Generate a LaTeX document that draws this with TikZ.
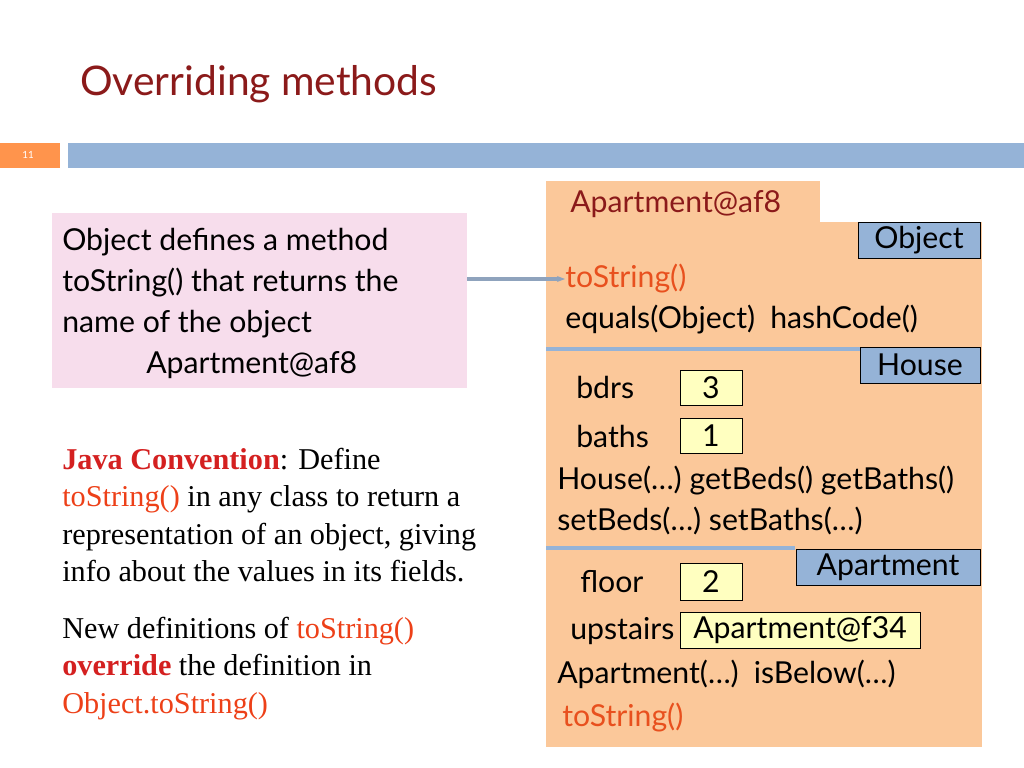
\documentclass[tikz,border=0pt]{standalone}
\usepackage{fontspec}
\setmainfont{Liberation Serif}
\newfontfamily\gill{Lato}
\usepackage{xcolor}
\usetikzlibrary{arrows.meta,positioning}
\definecolor{peach}{HTML}{FBC89A}
\definecolor{pinkbg}{HTML}{F7DDEC}
\definecolor{slate}{HTML}{95B3D7}
\definecolor{titlered}{HTML}{8B1A1A}
\definecolor{methred}{HTML}{E8501E}
\definecolor{javared}{HTML}{D42020}
\definecolor{valyellow}{HTML}{FFFFC0}
\begin{document}
\begin{tikzpicture}[
  x=0.025cm, y=-0.025cm,
  txt/.style={anchor=west, inner sep=0pt, font=\gill\fontsize{21.5}{26}\selectfont},
  classbox/.style={draw=black, fill=slate, inner sep=0pt, font=\gill\fontsize{21.5}{26}\selectfont},
  valbox/.style={draw=black, fill=valyellow, inner sep=0pt, font=\gill\fontsize{21.5}{26}\selectfont},
  sep/.style={draw=slate, line width=3pt},
  arrow/.style={-{Stealth[length=2mm]}, slate!70!gray, line width=2.5pt}
]
\useasboundingbox (0,0) rectangle (1024,768);
% title and header bar
\node[anchor=west, inner sep=0pt, text=titlered, font=\gill\fontsize{29}{32}\selectfont] (title) at (80,84) {Overriding methods};
\fill[fill=slate] (68,143) rectangle (1024,168);
\fill[fill=orange!80!red!70] (0,143) rectangle (60,168);
\node[text=white, font=\gill\fontsize{7}{8}\selectfont] (num) at (28,155) {11};
% object drawing
\fill[peach] (546,181) rectangle (820,222);
\fill[peach] (546,222) rectangle (982,747);
\draw[sep] (546,349) -- (865,349);
\draw[sep] (546,548) -- (795,548);
\node[txt, text=titlered] (name) at (570,204) {Apartment@af8};
\node[classbox, minimum width=3.05cm, minimum height=0.9cm] (obj) at (919,240) {Object};
\node[txt, text=methred] (ts1) at (565,279) {toString()};
\node[txt] (eq) at (565,320) {equals(Object)\enspace hashCode()};
\node[classbox, minimum width=3cm, minimum height=0.9cm] (house) at (920,365) {House};
\node[txt] (bdrs) at (576,387) {bdrs};
\node[valbox, minimum width=1.55cm, minimum height=0.88cm] (v3) at (711,388) {3};
\node[txt] (baths) at (576,436) {baths};
\node[valbox, minimum width=1.55cm, minimum height=0.88cm] (v1) at (711,436) {1};
\node[txt] (hm1) at (557,481) {House(\dots) getBeds() getBaths()};
\node[txt] (hm2) at (557,521) {setBeds(\dots) setBaths(\dots)};
\node[classbox, minimum width=4.6cm, minimum height=0.9cm] (apt) at (888,567) {Apartment};
\node[txt] (floor) at (580,582) {floor};
\node[valbox, minimum width=1.55cm, minimum height=0.92cm] (v2) at (711,582) {2};
\node[txt] (up) at (570,631) {upstairs};
\node[valbox, minimum width=6cm, minimum height=0.9cm] (vup) at (800,630) {Apartment@f34};
\node[txt] (am) at (557,674) {Apartment(\dots)\enspace isBelow(\dots)};
\node[txt, text=methred] (ts2) at (562,718) {toString()};
% explanation box
\fill[pinkbg] (52,213) rectangle (467,388);
\node[txt, align=left, anchor=north west, font=\gill\fontsize{21.5}{29.2}\selectfont] (expl) at (62,228)
  {Object defines a method\\ toString() that returns the\\ name of the object\\ \hspace{2.1cm}Apartment@af8};
\coordinate (arrstart) at (467,279);
\draw[arrow] (arrstart) -- (arrstart -| ts1.west);
% convention text
\node[anchor=north west, inner sep=0pt, align=left, font=\fontsize{21.5}{26.5}\selectfont] (conv) at (62,448)
  {\textcolor{javared}{\textbf{Java Convention}}: Define\\
   \textcolor{methred!80!red}{toString()} in any class to return a\\
   representation of an object, giving\\
   info about the values in its fields.};
\node[anchor=north west, inner sep=0pt, align=left, font=\fontsize{21.5}{26.5}\selectfont] (newdef) at (62,617)
  {New definitions of \textcolor{methred!80!red}{toString()}\\
   \textcolor{javared}{\textbf{override}} the definition in\\
   \textcolor{methred!80!red}{Object.toString()}};
\end{tikzpicture}
\end{document}
